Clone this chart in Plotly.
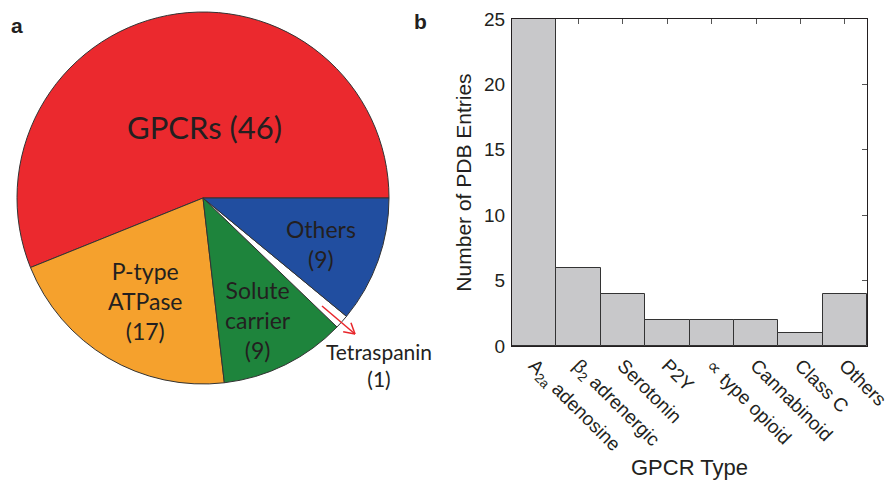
import math
import plotly.graph_objects as go

# ---- data ----
pie_labels = ["GPCRs", "P-type ATPase", "Solute carrier", "Tetraspanin", "Others"]
pie_values = [46, 17, 9, 1, 9]
pie_colors = ["#EB292E", "#F5A12D", "#1E843C", "#FFFFFF", "#214EA0"]

gpcr_types = ["A<sub>2a</sub> adenosine", "β<sub>2</sub> adrenergic", "Serotonin", "P2Y",
              "∝ type opioid", "Cannabinoid", "Class C", "Others"]
pdb_entries = [25, 6, 4, 2, 2, 2, 1, 4]

W, H = 890, 480
def px(x):
    return x / W
def py(y):
    return 1 - y / H

fig = go.Figure()

# first slice starts at 3 o'clock and runs counterclockwise
rot = 90 - 360 * pie_values[0] / sum(pie_values)

fig.add_trace(go.Pie(
    labels=pie_labels, values=pie_values, sort=False,
    direction="counterclockwise", rotation=rot,
    marker=dict(colors=pie_colors, line=dict(color="#333333", width=1)),
    textinfo="none", hoverinfo="label+value", showlegend=False,
    domain=dict(x=[px(17), px(389)], y=[py(384), py(12)]),
))

fig.add_trace(go.Bar(
    x=gpcr_types, y=pdb_entries,
    marker=dict(color="#C8C8CA", line=dict(color="#333333", width=1)),
    width=1, showlegend=False, xaxis="x", yaxis="y",
))

pie_font = "Lato, Open Sans, sans-serif"
txt = "#231F20"
ann = []
def lab(text, x, y, size):
    ann.append(dict(text=text, x=px(x), y=py(y), xref="paper", yref="paper",
                    showarrow=False, xanchor="center", yanchor="middle",
                    font=dict(family=pie_font, size=size, color=txt)))

lab(f"{pie_labels[0]} ({pie_values[0]})", 204, 127, 31)
lab(f"P-type<br>ATPase<br>({pie_values[1]})", 145, 301, 23)
lab(f"Solute<br>carrier<br>({pie_values[2]})", 258, 320, 23)
lab(f"{pie_labels[4]}<br>({pie_values[4]})", 321, 244, 23)
lab(f"{pie_labels[3]}<br>({pie_values[3]})", 379, 365, 21)

# panel letters
for t, x, y in [("a", 17, 25), ("b", 420, 22)]:
    ann.append(dict(text=f"<b>{t}</b>", x=px(x), y=py(y), xref="paper", yref="paper",
                    showarrow=False, xanchor="center", yanchor="middle",
                    font=dict(family="Liberation Sans, Arial", size=21, color=txt)))

# red arrow to tetraspanin
x0, y0, x1, y1 = 322, 306, 355, 334
dx, dy = x1 - x0, y1 - y0
L = math.hypot(dx, dy)
ux, uy = dx / L, dy / L
shapes = [dict(type="line", xref="paper", yref="paper", x0=px(x0), y0=py(y0), x1=px(x1), y1=py(y1),
               line=dict(color="#E8262B", width=1.5))]
for s in (1, -1):
    a = math.radians(30) * s
    vx, vy = -ux, -uy
    rx = vx * math.cos(a) - vy * math.sin(a)
    ry = vx * math.sin(a) + vy * math.cos(a)
    shapes.append(dict(type="line", xref="paper", yref="paper",
                       x0=px(x1), y0=py(y1), x1=px(x1 + 12 * rx), y1=py(y1 + 12 * ry),
                       line=dict(color="#E8262B", width=1.5)))

axfont = "Liberation Sans, Arial, sans-serif"
fig.update_layout(
    width=W, height=H, margin=dict(l=0, r=0, t=0, b=0, autoexpand=False),
    paper_bgcolor="white", plot_bgcolor="white",
    bargap=0,
    annotations=ann, shapes=shapes,
    xaxis=dict(domain=[px(512), px(867)], showline=True, linecolor="#231F20", linewidth=1,
               mirror="ticks", ticks="inside", ticklen=5, tickcolor="#555555",
               tickangle=45, tickfont=dict(family=axfont, size=19, color=txt),
               title=dict(text="GPCR Type", font=dict(family=axfont, size=22, color=txt), standoff=4),
               layer="below traces", showgrid=False, zeroline=False, anchor="y", automargin=False),
    yaxis=dict(domain=[py(346), py(19)], range=[0, 25], showline=True, linecolor="#231F20", linewidth=1,
               mirror="ticks", ticks="inside", ticklen=5, tickcolor="#555555",
               tickvals=[0, 5, 10, 15, 20, 25],
               tickfont=dict(family=axfont, size=19, color=txt), ticklabelstandoff=2,
               title=dict(text="Number of PDB Entries", font=dict(family=axfont, size=21, color=txt), standoff=6),
               layer="below traces", showgrid=False, zeroline=False, anchor="x", automargin=False),
)

fig.write_html("out.html")
